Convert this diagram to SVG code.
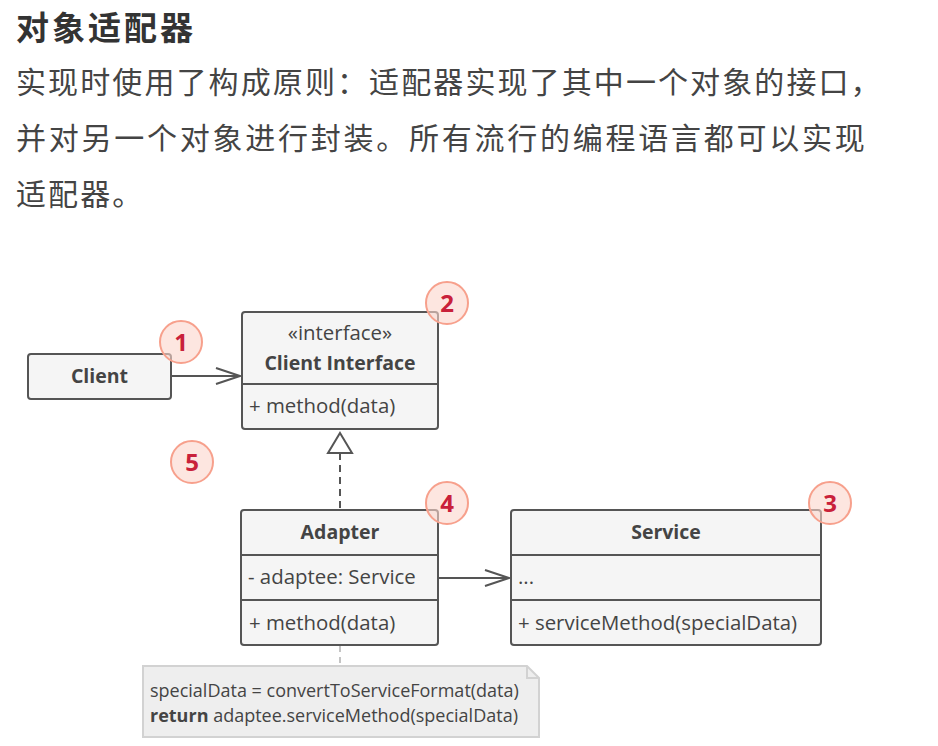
<svg xmlns="http://www.w3.org/2000/svg" width="938" height="746" viewBox="0 0 938 746">
<defs>
<style>
.cjk{font-family:"Noto Sans CJK SC","Noto Sans",sans-serif;}
.title{font-size:33px;font-weight:bold;fill:#333;letter-spacing:3px;}
.para{font-size:30px;fill:#444;letter-spacing:2.1px;}
.box{fill:#f5f5f5;stroke:#555;stroke-width:2;}
.div{stroke:#555;stroke-width:2;fill:none;}
.t{font-family:"Open Sans","Noto Sans",sans-serif;font-size:20.4px;fill:#444;}
.b{font-family:"Open Sans","Noto Sans",sans-serif;font-size:19.5px;font-weight:bold;fill:#444;}
.mid{text-anchor:middle;}
.conn{stroke:#555;stroke-width:2;fill:none;}
.badge circle{fill:#fcd5cb;fill-opacity:0.6;stroke:#f7a08c;stroke-width:2;}
.badge text{font-family:"Open Sans","Noto Sans",sans-serif;font-size:24px;font-weight:bold;fill:#c9213a;text-anchor:middle;}
.note{fill:#eeeeee;stroke:#d2d2d2;stroke-width:2;}
.nt{font-family:"Open Sans","Noto Sans",sans-serif;font-size:18px;fill:#444;}
</style>
<marker id="open" viewBox="0 0 26 18" refX="25" refY="9" markerWidth="26" markerHeight="18" markerUnits="userSpaceOnUse" orient="auto">
<path d="M1,1 L25,9 L1,17" fill="none" stroke="#555" stroke-width="2"/>
</marker>
</defs>
<rect width="938" height="746" fill="#fff"/>

<g id="heading">
<text class="cjk title" x="16" y="40">对象适配器</text>
<text class="cjk para" x="16" y="93">实现时使用了构成原则：适配器实现了其中一个对象的接口，</text>
<text class="cjk para" x="16" y="149" style="letter-spacing:2.75px">并对另一个对象进行封装。所有流行的编程语言都可以实现</text>
<text class="cjk para" x="16" y="205">适配器。</text>
</g>

<g id="connectors">
<line class="conn" x1="172" y1="376" x2="240" y2="376" marker-end="url(#open)"/>
<line class="conn" x1="340" y1="453" x2="340" y2="510" stroke-dasharray="7,5"/>
<path class="conn" d="M340,433 L352,453 L328,453 Z" fill="#fff"/>
<line class="conn" x1="438" y1="578" x2="509" y2="578" marker-end="url(#open)"/>
<line x1="340" y1="646" x2="340" y2="665" stroke="#c4c4c4" stroke-width="2" stroke-dasharray="6,5"/>
</g>

<g id="client">
<rect class="box" x="28" y="354" width="143" height="45" rx="3"/>
<text class="b mid" x="99.5" y="383">Client</text>
</g>

<g id="client-interface">
<rect class="box" x="242" y="312" width="196" height="117" rx="3"/>
<line class="div" x1="242" y1="384" x2="438" y2="384"/>
<text class="t mid" x="340" y="340">«interface»</text>
<text class="b mid" x="340" y="370">Client Interface</text>
<text class="t" x="249" y="413">+ method(data)</text>
</g>

<g id="adapter">
<rect class="box" x="241" y="510" width="197" height="135" rx="3"/>
<line class="div" x1="241" y1="555" x2="438" y2="555"/>
<line class="div" x1="241" y1="600" x2="438" y2="600"/>
<text class="b mid" x="340" y="539">Adapter</text>
<text class="t" x="248" y="584">- adaptee: Service</text>
<text class="t" x="249" y="630">+ method(data)</text>
</g>

<g id="service">
<rect class="box" x="511" y="510" width="310" height="135" rx="3"/>
<line class="div" x1="511" y1="555" x2="821" y2="555"/>
<line class="div" x1="511" y1="600" x2="821" y2="600"/>
<text class="b mid" x="666" y="539">Service</text>
<text class="t" x="518" y="584">...</text>
<text class="t" x="518" y="630">+ serviceMethod(specialData)</text>
</g>

<g id="note">
<path class="note" d="M143,666 L527,666 L539,678 L539,737 L143,737 Z"/>
<path d="M527,666 L527,678 L539,678" fill="none" stroke="#d2d2d2" stroke-width="2"/>
<text class="nt" x="150" y="697">specialData = convertToServiceFormat(data)</text>
<text class="nt" x="150" y="722"><tspan font-weight="bold">return</tspan> adaptee.serviceMethod(specialData)</text>
</g>

<g id="badge-1" class="badge"><circle cx="181" cy="342" r="21"/><text x="181" y="350.5">1</text></g>
<g id="badge-2" class="badge"><circle cx="447" cy="303" r="21"/><text x="447" y="311.5">2</text></g>
<g id="badge-3" class="badge"><circle cx="830" cy="503" r="21"/><text x="830" y="511.5">3</text></g>
<g id="badge-4" class="badge"><circle cx="447" cy="503" r="21"/><text x="447" y="511.5">4</text></g>
<g id="badge-5" class="badge"><circle cx="192" cy="462" r="21"/><text x="192" y="470.5">5</text></g>
</svg>
